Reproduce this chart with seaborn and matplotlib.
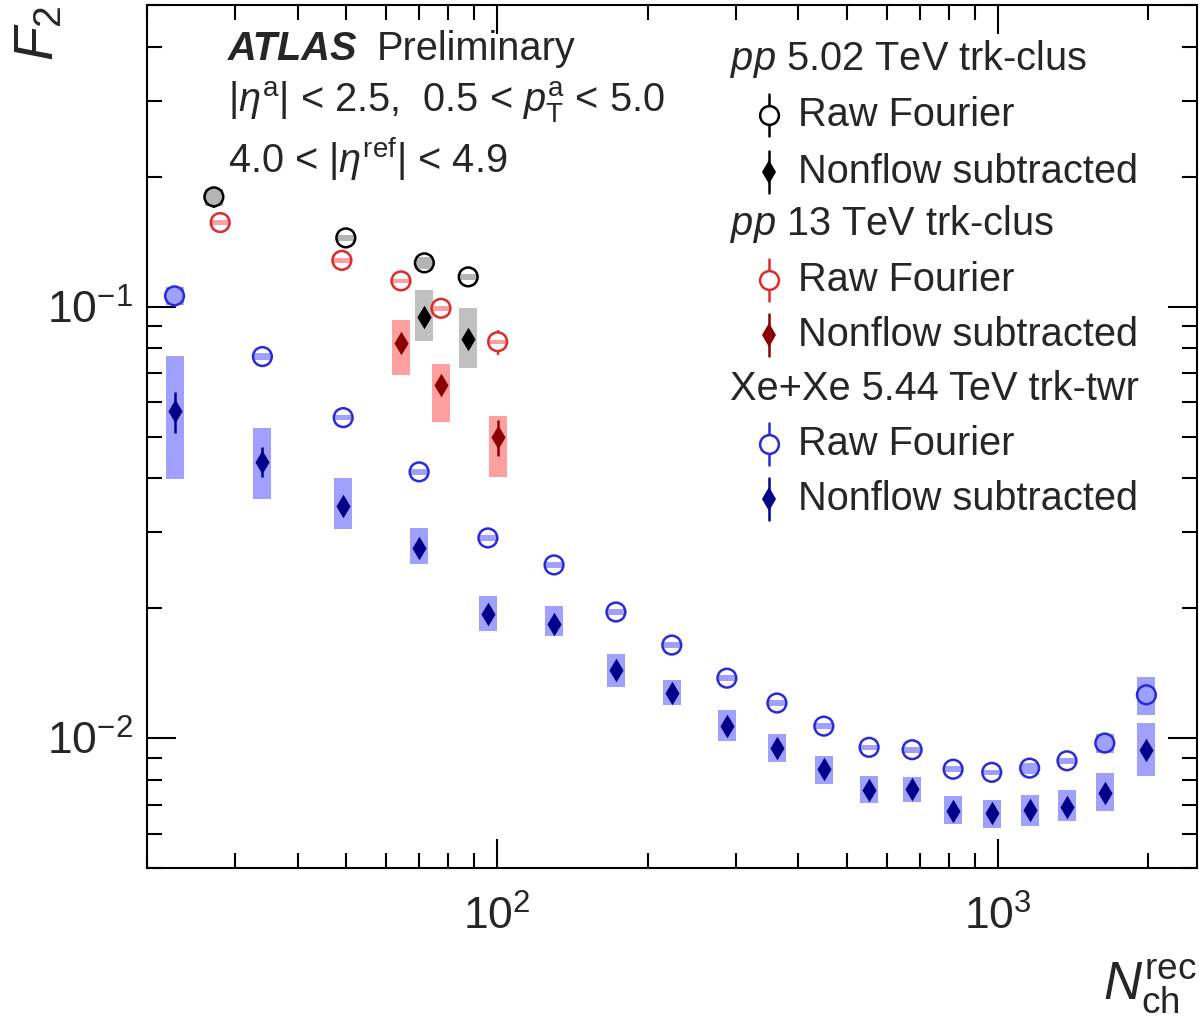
import numpy as np
import pandas as pd
import matplotlib
matplotlib.use("Agg")
import matplotlib.pyplot as plt
import seaborn as sns
from matplotlib.lines import Line2D
from matplotlib.ticker import LogLocator, NullFormatter

# ---------------- data ----------------
# pp 5.02 TeV trk-clus
pp5_raw_x = [27.2, 49.9, 71.6, 87.6]
pp5_raw_y = [0.1796, 0.1443, 0.1263, 0.1172]
pp5_raw_stat = [0.010, 0.003, 0.003, 0.003]
pp5_raw_sys = [0.045, 0.015, 0.030, 0.015]          # relative
pp5_nf_x = [71.6, 87.6]
pp5_nf_y = [0.0946, 0.0843]
pp5_nf_stat = [0.002, 0.002]
pp5_nf_lo = [0.0831, 0.0722]
pp5_nf_hi = [0.1090, 0.0995]

# pp 13 TeV trk-clus
pp13_raw_x = [28.0, 49.0, 64.3, 77.3, 100.3]
pp13_raw_y = [0.1566, 0.1280, 0.1147, 0.0991, 0.0829]
pp13_raw_stat = [0.002, 0.002, 0.002, 0.002, 0.0055]
pp13_raw_sys = [0.012, 0.012, 0.012, 0.012, 0.012]
pp13_nf_x = [64.3, 77.3, 100.3]
pp13_nf_y = [0.0824, 0.0657, 0.0498]
pp13_nf_stat = [0.002, 0.002, 0.0047]
pp13_nf_lo = [0.0693, 0.0540, 0.0403]
pp13_nf_hi = [0.0929, 0.0738, 0.0557]

# Xe+Xe 5.44 TeV trk-twr
xe_x = [22.7, 34.0, 49.3, 69.9, 95.9, 130.0, 172.8, 223.4, 287.8, 362.3,
        449.5, 553.5, 674.5, 814.4, 972.8, 1158.0, 1375.0, 1636.0, 1981.0]
xe_raw_y = [0.1059, 0.0766, 0.0553, 0.0414, 0.0291, 0.0252, 0.0196, 0.01643,
            0.01377, 0.01206, 0.01066, 0.00952, 0.00940, 0.00847, 0.00833,
            0.00852, 0.00886, 0.00974, 0.0126]
xe_raw_stat = [0.006, 0.004, 0.001, 0.0008, 0.0005, 0.0004, 0.0003, 0.0002,
               0.0002, 0.0002, 0.0001, 0.0001, 0.0001, 0.0001, 0.0001,
               0.0001, 0.0001, 0.0001, 0.0002]
xe_raw_sys = [0.05, 0.02, 0.015, 0.015, 0.015, 0.015, 0.015, 0.015, 0.015,
              0.015, 0.015, 0.015, 0.015, 0.015, 0.015, 0.03, 0.015, 0.05, 0.10]
xe_nf_y = [0.0572, 0.0437, 0.0345, 0.0276, 0.0194, 0.0184, 0.01438, 0.01272,
           0.01066, 0.00948, 0.00847, 0.00759, 0.00762, 0.00678, 0.00670,
           0.00681, 0.00694, 0.00746, 0.00940]
xe_nf_stat = [0.0063, 0.0035, 0.001, 0.0005, 0.0003, 0.0003, 0.0002, 0.0002,
              0.0001, 0.0001, 0.0001, 0.0001, 0.0001, 0.0001, 0.0001,
              0.0001, 0.0001, 0.0001, 0.0002]
xe_nf_lo = [0.0399, 0.0359, 0.0306, 0.0253, 0.0177, 0.0172, 0.01313, 0.01193,
            0.00984, 0.00880, 0.00783, 0.00707, 0.00712, 0.00631, 0.00620,
            0.00626, 0.00644, 0.00676, 0.00815]
xe_nf_hi = [0.0769, 0.0524, 0.0401, 0.0307, 0.0213, 0.0202, 0.01563, 0.01363,
            0.01161, 0.01023, 0.00910, 0.00819, 0.00812, 0.00736, 0.00720,
            0.00737, 0.00757, 0.00829, 0.01083]

# ---------------- style ----------------
sns.set_style("ticks")
plt.rcParams["font.family"] = ["Liberation Sans", "DejaVu Sans"]
plt.rcParams["mathtext.fontset"] = "custom"
plt.rcParams["mathtext.rm"] = "Liberation Sans"
plt.rcParams["mathtext.it"] = "Liberation Sans:italic"
plt.rcParams["mathtext.bf"] = "Liberation Sans:bold"
plt.rcParams["axes.linewidth"] = 1.5

TXT = 28.6
MS_C = 13.5   # circle marker size (pt)
MS_D = 12.0   # thin diamond size (pt)
HALF_W = 0.018  # half box width in decades

fig = plt.figure(figsize=(11.99, 10.24), dpi=100)
ax = fig.add_axes([147 / 1199, 1 - 868 / 1024, 1050 / 1199, 863 / 1024])
ax.set_xscale("log")
ax.set_yscale("log")
ax.set_xlim(20, 2500)
ax.set_ylim(0.005, 0.5)


def boxes(x, lo, hi, color):
    x = np.asarray(x, float)
    lo = np.asarray(lo, float)
    hi = np.asarray(hi, float)
    left = x * 10 ** -HALF_W
    right = x * 10 ** HALF_W
    ax.bar(left, hi - lo, width=right - left, bottom=lo, align="edge",
           color=color, linewidth=0, zorder=1)


def open_points(x, y, stat, color):
    df = pd.DataFrame({"x": x, "y": y})
    x = np.asarray(x, float)
    y = np.asarray(y, float)
    stat = np.asarray(stat, float)
    # error bars start at the rim of the hollow marker
    rim = 10 ** (9.5 / 431)
    up_lo, up_hi = y * rim, y + stat
    m = up_hi > up_lo
    ax.vlines(x[m], up_lo[m], up_hi[m], color=color, lw=1.6, zorder=2)
    dn_hi, dn_lo = y / rim, y - stat
    m = dn_lo < dn_hi
    ax.vlines(x[m], dn_lo[m], dn_hi[m], color=color, lw=1.6, zorder=2)
    sns.scatterplot(data=df, x="x", y="y", ax=ax, marker="o", s=MS_C ** 2,
                    color="none", edgecolor=color, linewidth=1.8, zorder=3,
                    legend=False)


def filled_points(x, y, stat, color):
    df = pd.DataFrame({"x": x, "y": y})
    ax.errorbar(x, y, yerr=stat, fmt="none", ecolor=color, elinewidth=1.8,
                capsize=0, zorder=2)
    sns.scatterplot(data=df, x="x", y="y", ax=ax, marker="d", s=MS_D ** 2,
                    color=color, edgecolor=color, linewidth=0, zorder=3,
                    legend=False)


GRAY_BOX, PINK_BOX, BLUE_BOX = "#c0c0c0", "#ffa0a0", "#a0a0ff"
C_PP5, C_PP13_RAW, C_PP13_NF = "black", "#dd2a2a", "#8b0000"
C_XE_RAW, C_XE_NF = "#2a2ad8", "#00008b"

# systematic boxes
for xs, ys, rel, col in [(pp5_raw_x, pp5_raw_y, pp5_raw_sys, "#b4b4b4"),
                         (pp13_raw_x, pp13_raw_y, pp13_raw_sys, PINK_BOX),
                         (xe_x, xe_raw_y, xe_raw_sys, BLUE_BOX)]:
    ys = np.asarray(ys)
    rel = np.asarray(rel)
    boxes(xs, ys * (1 - rel), ys * (1 + rel), col)
boxes(pp5_nf_x, pp5_nf_lo, pp5_nf_hi, GRAY_BOX)
boxes(pp13_nf_x, pp13_nf_lo, pp13_nf_hi, PINK_BOX)
boxes(xe_x, xe_nf_lo, xe_nf_hi, BLUE_BOX)

# points
open_points(xe_x, xe_raw_y, xe_raw_stat, C_XE_RAW)
filled_points(xe_x, xe_nf_y, xe_nf_stat, C_XE_NF)
open_points(pp13_raw_x, pp13_raw_y, pp13_raw_stat, C_PP13_RAW)
filled_points(pp13_nf_x, pp13_nf_y, pp13_nf_stat, C_PP13_NF)
open_points(pp5_raw_x, pp5_raw_y, pp5_raw_stat, C_PP5)
filled_points(pp5_nf_x, pp5_nf_y, pp5_nf_stat, C_PP5)

# axes cosmetics
for s in ax.spines.values():
    s.set_linewidth(1.5)
    s.set_color("black")
ax.xaxis.set_major_locator(LogLocator(base=10))
ax.xaxis.set_minor_locator(LogLocator(base=10, subs=np.arange(2, 10)))
ax.yaxis.set_minor_locator(LogLocator(base=10, subs=np.arange(2, 10)))
ax.xaxis.set_minor_formatter(NullFormatter())
ax.yaxis.set_minor_formatter(NullFormatter())
ax.tick_params(which="both", direction="in", top=True, right=True,
               width=1.5, color="black")
ax.tick_params(which="major", length=21)
ax.tick_params(which="minor", length=10.5)
ax.tick_params(axis="x", which="major", labelsize=32, pad=20)
ax.tick_params(axis="y", which="major", labelsize=32, pad=10)

ax.set_ylabel(r"$F_{2}$", fontsize=40, loc="top", labelpad=0)
ax.yaxis.set_label_coords(-0.078, 1.0)
ax.set_xlabel(r"$N_{\rm ch}^{\rm rec}$", fontsize=38, loc="right")
ax.xaxis.set_label_coords(1.0, -0.104)

# text block
tr = ax.transAxes
ax.text(0.0771, 0.9490, "ATLAS", transform=tr, fontsize=TXT,
        fontweight="bold", fontstyle="italic", va="center")
ax.text(0.219, 0.9490, "Preliminary", transform=tr, fontsize=TXT, va="center")
ax.text(0.0771, 0.8870,
        r"$|\eta^{\rm a}|$ < 2.5,  0.5 < $p_{\rm T}^{\rm a}$ < 5.0",
        transform=tr, fontsize=TXT, va="center")
ax.text(0.0771, 0.8220, r"4.0 < $|\eta^{\rm ref}|$ < 4.9",
        transform=tr, fontsize=TXT, va="center")

# legend block
hx, mx, lx = 0.555, 0.592, 0.620
rows = [0.9370, 0.8725, 0.8065, 0.7460, 0.6813, 0.6176, 0.5550, 0.4913, 0.4276]
headers = [r"$pp$ 5.02 TeV trk-clus", r"$pp$ 13 TeV trk-clus",
           "Xe+Xe 5.44 TeV trk-twr"]
entries = [("o", C_PP5), ("d", C_PP5), ("o", C_PP13_RAW), ("d", C_PP13_NF),
           ("o", C_XE_RAW), ("d", C_XE_NF)]
labels = ["Raw Fourier", "Nonflow subtracted"] * 3
half = 21 / 863
k = 0
for g in range(3):
    ax.text(hx, rows[3 * g], headers[g], transform=tr, fontsize=TXT,
            va="center")
    for j in range(2):
        yy = rows[3 * g + 1 + j]
        mk, col = entries[k]
        ax.add_line(Line2D([mx, mx], [yy - half, yy + half], transform=tr,
                           color=col, lw=1.8, zorder=4))
        if mk == "o":
            ax.add_line(Line2D([mx], [yy], transform=tr, marker="o",
                               ms=MS_C, mfc="white", mec=col, mew=1.8,
                               ls="none", zorder=5))
        else:
            ax.add_line(Line2D([mx], [yy], transform=tr, marker="d",
                               ms=MS_D, mfc=col, mec=col, mew=0,
                               ls="none", zorder=5))
        ax.text(lx, yy, labels[k], transform=tr, fontsize=TXT, va="center")
        k += 1

fig.savefig("out.png", dpi=100)
